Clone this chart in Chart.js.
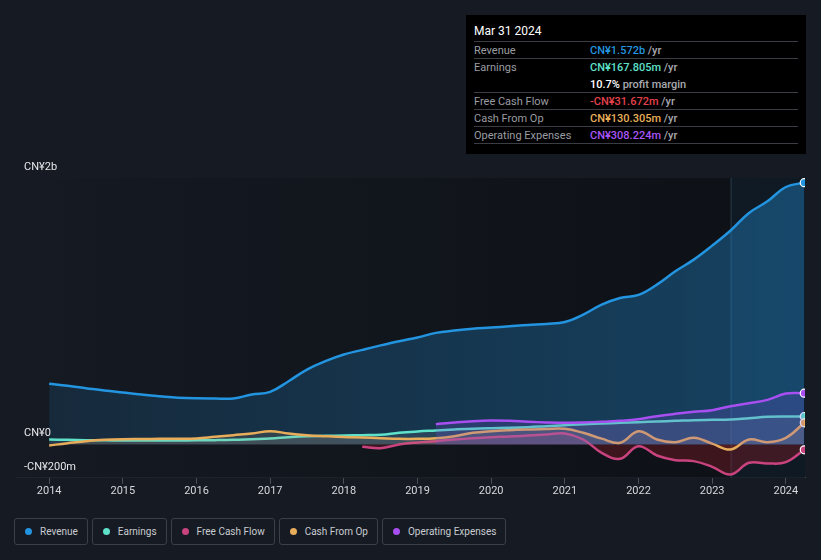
<!DOCTYPE html>
<html>
<head>
<meta charset="utf-8">
<script src="https://cdn.jsdelivr.net/npm/chart.js@4.4.1/dist/chart.umd.min.js"></script>
<style>
  html, body { margin: 0; padding: 0; background: #151a23; font-family: Roboto, "Noto Sans", sans-serif; }
  #wrap { position: relative; width: 821px; height: 560px; overflow: hidden; }
  #chartBox { position: absolute; left: 0; top: 0; width: 821px; height: 502px; }
  #tip { position: absolute; left: 466px; top: 15px; width: 340px; height: 139px; background: #000; box-sizing: border-box; padding: 0 8px; }
  #tip .title { color: #fff; font-size: 12px; height: 26px; line-height: 32px; border-bottom: 1px solid #3a3d44; }
  #tip .row { display: flex; height: 16px; line-height: 17px; font-size: 11px; border-bottom: 1px solid #3a3d44; }
  #tip .row.noline { border-bottom: none; height: 17px; }
  #tip .lab { width: 116px; color: #9a9ca2; }
  #tip .val { font-weight: 500; }
  #tip .unit { color: #a8aab0; font-weight: 500; }
  #legend { position: absolute; left: 14px; top: 518px; display: flex; gap: 4px; }
  .lg { height: 27px; box-sizing: border-box; border: 1px solid #3a3f4a; border-radius: 3px; display: flex; align-items: center; padding: 0 9px 0 10px; color: #c9cbd0; font-size: 10px; }
  .lg i { width: 7px; height: 7px; border-radius: 50%; display: inline-block; margin-right: 8px; }
</style>
</head>
<body>
<div id="wrap">
  <div id="chartBox"><canvas id="chart" width="821" height="502"></canvas></div>
  <div id="tip">
    <div class="title">Mar 31 2024</div>
    <div class="row"><span class="lab">Revenue</span><span class="val" style="color:#2394df">CN¥1.572b</span><span class="unit">&nbsp;/yr</span></div>
    <div class="row noline"><span class="lab">Earnings</span><span class="val" style="color:#5ee0c9">CN¥167.805m</span><span class="unit">&nbsp;/yr</span></div>
    <div class="row"><span class="lab"></span><span class="val" style="color:#fff">10.7%</span><span class="unit">&nbsp;profit margin</span></div>
    <div class="row"><span class="lab">Free Cash Flow</span><span class="val" style="color:#e5404a">-CN¥31.672m</span><span class="unit">&nbsp;/yr</span></div>
    <div class="row"><span class="lab">Cash From Op</span><span class="val" style="color:#e8b05a">CN¥130.305m</span><span class="unit">&nbsp;/yr</span></div>
    <div class="row"><span class="lab">Operating Expenses</span><span class="val" style="color:#a855f7">CN¥308.224m</span><span class="unit">&nbsp;/yr</span></div>
  </div>
  <div id="legend"></div>
</div>
<script>
// quarterly dates (decimal years) and values in CN¥ millions
const dates = [
  2014.00, 2014.25, 2014.50, 2014.75, 2015.00, 2015.25, 2015.50, 2015.75,
  2016.00, 2016.25, 2016.50, 2016.75, 2017.00, 2017.25, 2017.50, 2017.75,
  2018.00, 2018.25, 2018.50, 2018.75, 2019.00, 2019.25, 2019.50, 2019.75,
  2020.00, 2020.25, 2020.50, 2020.75, 2021.00, 2021.25, 2021.50, 2021.75,
  2022.00, 2022.25, 2022.50, 2022.75, 2023.00, 2023.25, 2023.50, 2023.75,
  2024.00, 2024.25
];
const revenue = [
  364, 352, 338, 324, 312, 300, 290, 281,
  277, 276, 276, 300, 316, 380, 450, 500,
  540, 568, 595, 620, 642, 670, 684, 695,
  702, 710, 718, 724, 735, 780, 840, 880,
  898, 960, 1040, 1110, 1194, 1285, 1390, 1460,
  1546, 1572
];
const earnings = [
  30, 28, 26, 25, 24, 24, 24, 24,
  25, 26, 28, 32, 36, 44, 50, 52,
  54, 56, 58, 70, 78, 84, 90, 95,
  98, 100, 104, 110, 116, 122, 126, 130,
  134, 138, 142, 146, 148, 150, 158, 166,
  168, 168
];
const freeCashFlow = [
  null, null, null, null, null, null, null, null,
  null, null, null, null, null, null, null, null,
  null, -14, -22, 0, 12, 20, 30, 38,
  44, 48, 54, 60, 66, 30, -50, -86,
  -10, -66, -94, -100, -134, -180, -110, -114,
  -106, -32
];
const cashFromOp = [
  -6, 8, 20, 28, 32, 33, 34, 34,
  36, 46, 56, 66, 80, 66, 56, 50,
  45, 42, 38, 34, 34, 38, 50, 70,
  80, 86, 90, 93, 94, 70, 35, 10,
  80, 30, 14, 40, 5, -30, 30, 14,
  40, 130
];
const opex = [
  null, null, null, null, null, null, null, null,
  null, null, null, null, null, null, null, null,
  null, null, null, null, null, 122, 132, 140,
  144, 142, 136, 132, 130, 132, 136, 142,
  152, 170, 184, 196, 206, 230, 248, 268,
  306, 308
];
const yearTicks = [2014, 2015, 2016, 2017, 2018, 2019, 2020, 2021, 2022, 2023, 2024];
const yTicks = [-200, 0, 500, 1000, 1500, 1600];
const yLabels = { 1600: "CN¥2b", 0: "CN¥0", "-200": "-CN¥200m" };
const highlightStart = 2023.25;

const series = [
  { name: "Revenue", data: revenue, color: "#2394df", fill: "rgba(35,148,223,0.18)" },
  { name: "Earnings", data: earnings, color: "#5ee0c9", fill: "rgba(120,140,150,0.18)" },
  { name: "Free Cash Flow", data: freeCashFlow, color: "#c9437f", fill: "rgba(201,67,127,0.18)", below: "rgba(150,30,40,0.35)" },
  { name: "Cash From Op", data: cashFromOp, color: "#e8ad5a", fill: "rgba(200,170,130,0.15)", below: "rgba(150,60,40,0.25)" },
  { name: "Operating Expenses", data: opex, color: "#a74ff0", fill: "rgba(120,80,220,0.22)" }
];

// Legend
const legend = document.getElementById("legend");
series.forEach(s => {
  const d = document.createElement("div");
  d.className = "lg";
  d.innerHTML = `<i style="background:${s.color}"></i>${s.name}`;
  legend.appendChild(d);
});

const bgPlugin = {
  id: "bg",
  beforeDatasetsDraw(chart) {
    const { ctx, chartArea: a, scales } = chart;
    ctx.save();
    const g = ctx.createLinearGradient(a.left, 0, a.right, 0);
    g.addColorStop(0, "#151a23");
    g.addColorStop(1, "#0d1015");
    ctx.fillStyle = g;
    ctx.fillRect(a.left, a.top, a.right - a.left, a.bottom - a.top);
    const hx = scales.x.getPixelForValue(highlightStart);
    ctx.fillStyle = "rgba(30,90,130,0.13)";
    ctx.fillRect(hx, a.top, a.right - hx, a.bottom - a.top);
    ctx.strokeStyle = "rgba(90,120,150,0.35)";
    ctx.lineWidth = 1;
    ctx.beginPath();
    ctx.moveTo(hx + 0.5, a.top);
    ctx.lineTo(hx + 0.5, a.bottom);
    ctx.stroke();
    ctx.restore();
  },
  afterDraw(chart) {
    const { ctx, chartArea: a, scales } = chart;
    ctx.save();
    ctx.font = "11px Roboto, sans-serif";
    ctx.fillStyle = "#e6e7ea";
    ctx.textBaseline = "alphabetic";
    Object.keys(yLabels).forEach(k => {
      const y = scales.y.getPixelForValue(+k);
      ctx.fillText(yLabels[k], a.left + 8, y - 8);
    });
    ctx.restore();
  }
};

const ctx = document.getElementById("chart").getContext("2d");
const revGrad = ctx.createLinearGradient(16, 0, 805, 0);
revGrad.addColorStop(0, "rgba(35,148,223,0.12)");
revGrad.addColorStop(1, "rgba(35,148,223,0.38)");

const datasets = series.map((s, i) => {
  const last = s.data.length - 1;
  return {
    label: s.name,
    data: dates.map((d, j) => ({ x: d, y: s.data[j] })),
    borderColor: s.color,
    backgroundColor: i === 0 ? revGrad : s.fill,
    fill: s.below ? { target: "origin", above: s.fill, below: s.below } : "origin",
    borderWidth: 2.5,
    tension: 0.4,
    spanGaps: false,
    pointRadius: c => (c.dataIndex === last ? 4 : 0),
    pointBackgroundColor: s.color,
    pointBorderColor: "#ffffff",
    pointBorderWidth: 1.2,
    order: 5 - i
  };
});

new Chart(ctx, {
  type: "line",
  data: { datasets },
  options: {
    responsive: false,
    animation: false,
    layout: { padding: { left: 16, right: 16, top: 178, bottom: 3 } },
    plugins: { legend: { display: false }, tooltip: { enabled: false } },
    scales: {
      x: {
        type: "linear",
        min: 2013.55,
        max: 2024.26,
        afterBuildTicks: ax => { ax.ticks = yearTicks.map(v => ({ value: v })); },
        ticks: { color: "#d6d8dc", font: { size: 11, family: "Roboto" }, padding: 1, callback: v => String(v) },
        grid: { drawOnChartArea: false, color: "#4a4e57", tickLength: 6 },
        border: { display: true, color: "#4a4e57" }
      },
      y: {
        min: -200,
        max: 1600,
        afterBuildTicks: ax => { ax.ticks = yTicks.map(v => ({ value: v })); },
        ticks: { display: false },
        grid: {
          drawTicks: false,
          color: c => {
            const v = c.tick.value;
            if (v === 0) return "#b8bac0";
            if (v === 1600) return "#4a4e57";
            if (v === -200) return "#4a4e57";
            return "#272b33";
          },
          lineWidth: c => (c.tick.value === 0 ? 1.5 : 1)
        },
        border: { display: false }
      }
    }
  },
  plugins: [bgPlugin]
});
</script>
</body>
</html>
